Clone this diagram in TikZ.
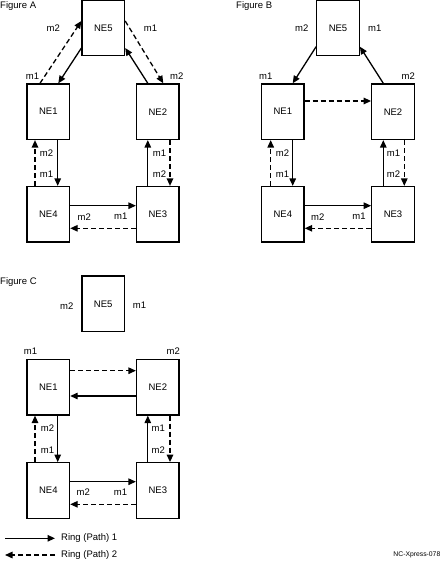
\documentclass[tikz,border=0pt]{standalone}
\usepackage{fontspec}
\setmainfont{Liberation Sans}
\usetikzlibrary{arrows.meta}
\begin{document}
\begin{tikzpicture}[x=1pt,y=-1pt,
  ne/.style={draw,line width=1.3pt,minimum width=42.5pt,minimum height=55.5pt,inner sep=0pt,font=\fontsize{9.5}{11}\selectfont},
  lbl/.style={inner sep=0pt,font=\fontsize{9.5}{11}\selectfont},
  ttl/.style={inner sep=0pt,anchor=west,font=\fontsize{9.5}{11}\selectfont},
  p1/.style={line width=1.3pt,-{Triangle[length=7.5pt,width=6.5pt]}},
  p2/.style={line width=1.3pt,dash pattern=on 5pt off 3pt,-{Triangle[length=7.5pt,width=6.5pt]}}]
\path[use as bounding box,fill=white] (0,0) rectangle (441,561);

% ---------- Figure A ----------
\node[ttl] (ta) at (0,6.5) {Figure A};
\node[ne] (a5) at (103.3,28) {NE5};
\node[ne] (a1) at (48.3,111.7) {NE1};
\node[ne] (a2) at (157.8,111.7) {NE2};
\node[ne] (a4) at (48.3,214.3) {NE4};
\node[ne] (a3) at (157.8,214.3) {NE3};
\draw[p2] ([xshift=-8.3pt]a1.north) -- ([yshift=7pt]a5.west);
\draw[p1] ([yshift=-20pt]a5.west) -- ([xshift=10pt]a1.north);
\draw[p2] ([yshift=7pt]a5.east) -- ([xshift=5.5pt]a2.north);
\draw[p1] ([xshift=-10pt]a2.north) -- ([yshift=-20pt]a5.east);
\draw[p2] ([xshift=-13.3pt]a4.north) -- ([xshift=-13.3pt]a1.south);
\draw[p1] ([xshift=9.4pt]a1.south) -- ([xshift=9.4pt]a4.north);
\draw[p1] ([xshift=-10pt]a3.north) -- ([xshift=-10pt]a2.south);
\draw[p2] ([xshift=12.2pt]a2.south) -- ([xshift=12.2pt]a3.north);
\draw[p1] ([yshift=8.6pt]a4.east) -- ([yshift=8.6pt]a3.west);
\draw[p2] ([yshift=-14pt]a3.west) -- ([yshift=-14pt]a4.east);
\node[lbl] (la1) at (53.3,28) {m2};
\node[lbl] (la2) at (150.5,28) {m1};
\node[lbl] (la3) at (32.5,76) {m1};
\node[lbl] (la4) at (176.7,76) {m2};
\node[lbl] (la5) at (46.5,153.5) {m2};
\node[lbl] (la6) at (46.5,174.5) {m1};
\node[lbl] (la7) at (159.5,153.5) {m1};
\node[lbl] (la8) at (159.5,174.5) {m2};
\node[lbl] (la9) at (84.3,216.7) {m2};
\node[lbl] (la10) at (120.8,216.7) {m1};

% ---------- Figure B ----------
\node[ttl] (tb) at (236,6.5) {Figure B};
\node[ne] (b5) at (338,28) {NE5};
\node[ne] (b1) at (282.8,111.7) {NE1};
\node[ne] (b2) at (393,111.7) {NE2};
\node[ne] (b4) at (282.8,214.3) {NE4};
\node[ne] (b3) at (393,214.3) {NE3};
\draw[p1] ([yshift=-18.7pt]b5.west) -- ([xshift=9.9pt]b1.north);
\draw[p1] ([xshift=-9.7pt]b2.north) -- ([yshift=-18.7pt]b5.east);
\draw[p2] ([yshift=10.7pt]b1.east) -- ([yshift=10.7pt]b2.west);
\draw[p2] ([xshift=-12.1pt]b4.north) -- ([xshift=-12.1pt]b1.south);
\draw[p1] ([xshift=9.9pt]b1.south) -- ([xshift=9.9pt]b4.north);
\draw[p1] ([xshift=-9.7pt]b3.north) -- ([xshift=-9.7pt]b2.south);
\draw[p2] ([xshift=11.3pt]b2.south) -- ([xshift=11.3pt]b3.north);
\draw[p1] ([yshift=8.6pt]b4.east) -- ([yshift=8.6pt]b3.west);
\draw[p2] ([yshift=-14pt]b3.west) -- ([yshift=-14pt]b4.east);
\node[lbl] (lb1) at (301.7,28) {m2};
\node[lbl] (lb2) at (374.7,28) {m1};
\node[lbl] (lb3) at (265.7,76) {m1};
\node[lbl] (lb4) at (408.3,76) {m2};
\node[lbl] (lb5) at (282.5,153.5) {m2};
\node[lbl] (lb6) at (282.5,174.5) {m1};
\node[lbl] (lb7) at (393.5,153.5) {m1};
\node[lbl] (lb8) at (393.5,174.5) {m2};
\node[lbl] (lb9) at (317.7,216.7) {m2};
\node[lbl] (lb10) at (359,216.7) {m1};

% ---------- Figure C ----------
\node[ttl] (tc) at (0,281.7) {Figure C};
\node[ne] (c5) at (103.2,303.8) {NE5};
\node[ne] (c1) at (48.3,387.2) {NE1};
\node[ne] (c2) at (157.8,387.2) {NE2};
\node[ne] (c4) at (48.3,490.5) {NE4};
\node[ne] (c3) at (157.8,490.5) {NE3};
\draw[p2] ([yshift=16.5pt]c1.east) -- ([yshift=16.5pt]c2.west);
\draw[p1] ([yshift=-8.8pt]c2.west) -- ([yshift=-8.8pt]c1.east);
\draw[p2] ([xshift=-13.3pt]c4.north) -- ([xshift=-13.3pt]c1.south);
\draw[p1] ([xshift=9.4pt]c1.south) -- ([xshift=9.4pt]c4.north);
\draw[p1] ([xshift=-10pt]c3.north) -- ([xshift=-10pt]c2.south);
\draw[p2] ([xshift=12.2pt]c2.south) -- ([xshift=12.2pt]c3.north);
\draw[p1] ([yshift=8.8pt]c4.east) -- ([yshift=8.8pt]c3.west);
\draw[p2] ([yshift=-13.8pt]c3.west) -- ([yshift=-13.8pt]c4.east);
\node[lbl] (lc1) at (66.7,305.7) {m2};
\node[lbl] (lc2) at (139.5,305.7) {m1};
\node[lbl] (lc3) at (30.5,351) {m1};
\node[lbl] (lc4) at (173.3,351) {m2};
\node[lbl] (lc5) at (47.5,428.3) {m2};
\node[lbl] (lc6) at (47.5,450) {m1};
\node[lbl] (lc7) at (158.3,428.3) {m1};
\node[lbl] (lc8) at (158.3,450) {m2};
\node[lbl] (lc9) at (83.3,492.3) {m2};
\node[lbl] (lc10) at (120.5,492.3) {m1};

% ---------- Legend ----------
\coordinate (g1a) at (5,538.3);
\coordinate (g1b) at (55,538.3);
\coordinate (g2a) at (55,555);
\coordinate (g2b) at (5,555);
\draw[p1] (g1a) -- (g1b);
\draw[p2] (g2a) -- (g2b);
\node[ttl] (gt1) at (61,538.5) {Ring (Path) 1};
\node[ttl] (gt2) at (61,555) {Ring (Path) 2};
\node[inner sep=0pt,anchor=east,font=\fontsize{6.8}{8}\selectfont] (nc) at (440.5,555) {NC-Xpress-078};
\end{tikzpicture}
\end{document}
